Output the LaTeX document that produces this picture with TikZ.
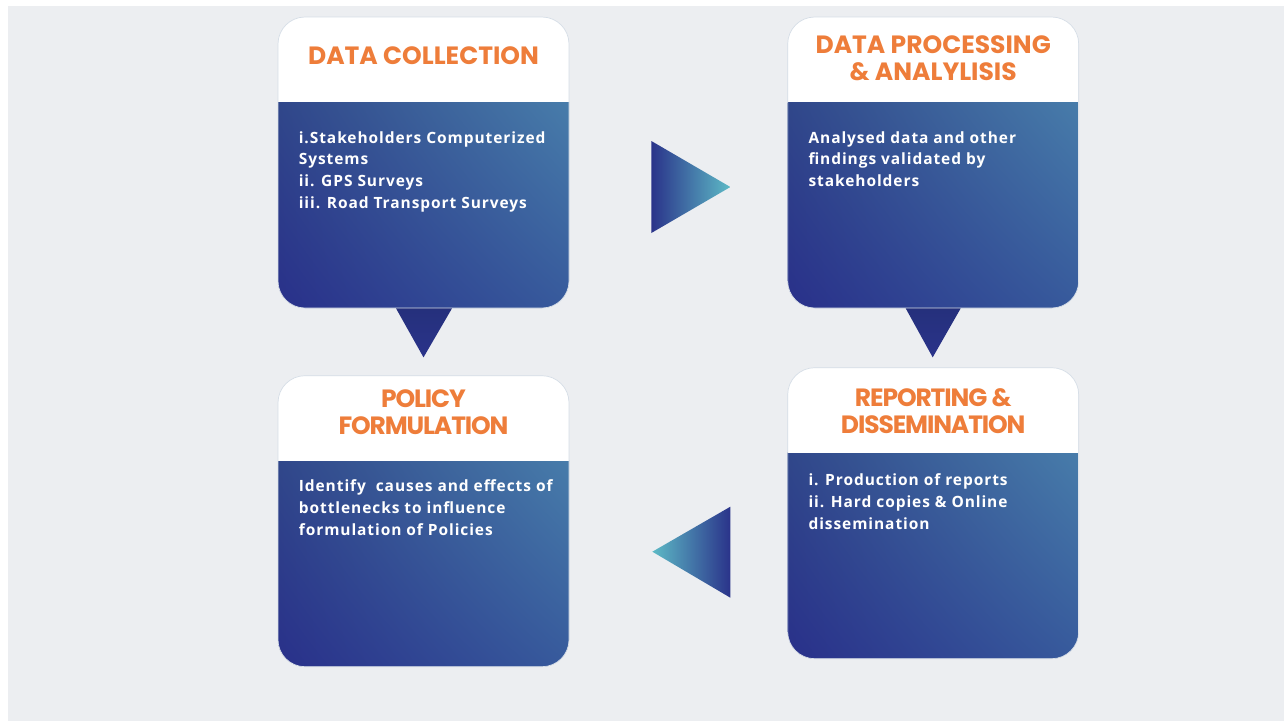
\documentclass[tikz,border=0pt]{standalone}
\usepackage{fontspec}
\setmainfont{Open Sans}
\newfontfamily\bodyfont{Open Sans}[LetterSpace=6]
\newfontfamily\headfont{Poppins}
\newfontfamily\tightheadfont{Poppins}[LetterSpace=-4.5]
\usetikzlibrary{shapes.geometric, positioning, shadings}

\definecolor{canvas}{HTML}{ECEEF1}
\definecolor{rim}{HTML}{D6DEE7}
\definecolor{headorange}{HTML}{EE7D3A}
\definecolor{navy}{HTML}{2A338A}
\definecolor{deepnavy}{HTML}{25307C}
\definecolor{teal}{HTML}{5DBAC6}
\definecolor{slateblue}{HTML}{33508A}
\definecolor{seablue}{HTML}{4E8AB0}
\definecolor{inkblue}{HTML}{29308A}
\definecolor{royalblue}{HTML}{375A9C}

\tikzstyle{bodyshade} = [sharp corners, upper left=slateblue, upper right=seablue, lower left=inkblue, lower right=royalblue]
\tikzstyle{stage} = [rectangle, rounded corners=27pt, minimum width=291pt, minimum height=291pt, inner sep=0pt, draw=rim, line width=0.7pt,
  path picture={
    \shade[bodyshade] ([yshift=-85pt]path picture bounding box.north west) rectangle (path picture bounding box.south east);
    \fill[white, sharp corners] (path picture bounding box.north west) rectangle ([yshift=-85pt]path picture bounding box.north east);
  }]
\tikzstyle{title} = [text=headorange, font=\headfont\bfseries\fontsize{25}{27}\selectfont, align=center, inner sep=0pt]
\tikzstyle{tighttitle} = [title, font=\tightheadfont\bfseries\fontsize{25}{27}\selectfont]
\tikzstyle{body} = [text=white, font=\bodyfont\bfseries\fontsize{15.5}{21.7}\selectfont, align=left, anchor=north west, inner sep=0pt]
\tikzstyle{flow} = [left color=navy, right color=teal]
\tikzstyle{back} = [left color=teal, right color=navy]
\tikzstyle{drop} = [top color=deepnavy, bottom color=navy]

\begin{document}
\begin{tikzpicture}[x=1pt, y=-1pt]

\fill[white] (0,0) rectangle (1284,721);
\fill[canvas] (8,6) rectangle (1284,721);
\useasboundingbox (0,0) rectangle (1284,721);

\node (collect) [stage] at (423.5,162.5) {};
\node (process) [stage, right=218pt of collect] {};
\node (policy) [stage, below=67pt of collect] {};
\node (report) [stage, below=59pt of process] {};

\node (collecthead) [title] at ([yshift=-39.5pt]collect.north) {DATA COLLECTION};
\node (processhead) [title] at ([yshift=-41.5pt]process.north) {DATA PROCESSING\\\& ANALYLISIS};
\node (policyhead) [tighttitle] at ([yshift=-36.5pt]policy.north) {POLICY\\FORMULATION};
\node (reporthead) [tighttitle] at ([yshift=-44pt]report.north) {REPORTING \&\\DISSEMINATION};

\node (collecttext) [body] at ([xshift=21pt, yshift=-114.5pt]collect.north west) {i.Stakeholders Computerized\\Systems\\ii. GPS Surveys\\iii. Road Transport Surveys};
\node (processtext) [body] at ([xshift=21pt, yshift=-114.5pt]process.north west) {Analysed data and other\\findings validated by\\stakeholders};
\node (policytext) [body] at ([xshift=21pt, yshift=-104.5pt]policy.north west) {Identify\ \ causes and effects of\\bottlenecks to influence\\formulation of Policies};
\node (reporttext) [body] at ([xshift=21pt, yshift=-106.5pt]report.north west) {i. Production of reports\\ii. Hard copies \& Online\\dissemination};

% arrows between the stages
\shade[flow] ([xshift=82pt, yshift=21.5pt]collect.east) -- ([xshift=161pt, yshift=-24.5pt]collect.east) -- ([xshift=82pt, yshift=-70.5pt]collect.east) -- cycle;
\shade[drop] ([xshift=-27.5pt]collect.south) -- ([xshift=28.5pt]collect.south) -- ([yshift=-49pt]collect.south) -- cycle;
\shade[drop] ([xshift=-27.5pt]process.south) -- ([xshift=27.5pt]process.south) -- ([xshift=-0.5pt, yshift=-49pt]process.south) -- cycle;
\shade[back] ([xshift=-57pt, yshift=6.5pt]report.west) -- ([xshift=-57pt, yshift=-84.5pt]report.west) -- ([xshift=-135pt, yshift=-38.5pt]report.west) -- cycle;

\end{tikzpicture}
\end{document}
